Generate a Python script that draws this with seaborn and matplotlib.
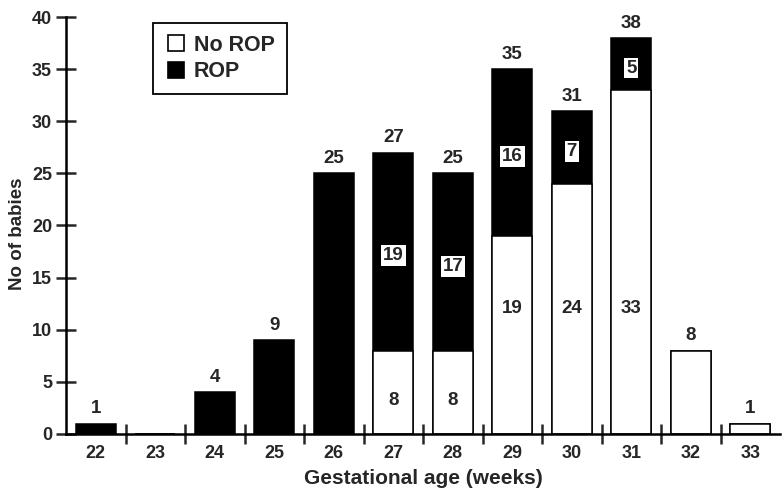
import numpy as np
import pandas as pd
import matplotlib
matplotlib.use("Agg")
import matplotlib.pyplot as plt
from matplotlib.lines import Line2D
import seaborn as sns

# data
weeks = ["22", "23", "24", "25", "26", "27", "28", "29", "30", "31", "32", "33"]
no_rop = [0, 0, 0, 0, 0, 8, 8, 19, 24, 33, 8, 1]
rop = [1, 0, 4, 9, 25, 19, 17, 16, 7, 5, 0, 0]

df = pd.DataFrame({"week": weeks, "no_rop": no_rop, "rop": rop})
df["total"] = df["no_rop"] + df["rop"]

sns.set_style("ticks")
plt.rcParams["font.family"] = ["Liberation Sans", "DejaVu Sans"]
plt.rcParams["font.weight"] = "bold"

fig = plt.figure(figsize=(7.84, 4.9), dpi=100)
ax = fig.add_axes([0.0842, 0.1143, 0.9107, 0.851])

# stacked bars: full height in black, then the No ROP part in white on top
sns.barplot(data=df, x="week", y="total", color="black", width=0.68,
            edgecolor="black", linewidth=1.1, saturation=1, errorbar=None, ax=ax)
sns.barplot(data=df, x="week", y="no_rop", color="white", width=0.68,
            edgecolor="black", linewidth=1.1, saturation=1, errorbar=None, ax=ax)

for i, row in df.iterrows():
    tot, n, r = row["total"], row["no_rop"], row["rop"]
    if tot > 0:
        ax.text(i, tot + 0.6, str(tot), ha="center", va="bottom",
                fontsize=13.5, fontweight="bold")
    if n > 0 and r > 0:
        y_in = 12 if n >= 12 else n * 0.4
        ax.text(i, y_in, str(n), ha="center", va="center",
                fontsize=13.5, fontweight="bold")
        ax.text(i, (n + tot) / 2 - 0.4, str(r), ha="center", va="center",
                fontsize=13.5, fontweight="bold",
                bbox=dict(boxstyle="square,pad=0.1", fc="white", ec="none"))

ax.set_xlim(-0.5, 11.5)
ax.set_ylim(0, 40)
ax.set_yticks(np.arange(0, 41, 5))
ax.set_xticks(range(len(weeks)))
ax.set_xticklabels(weeks)
ax.set_xticks(np.arange(0.5, len(weeks) - 1, 1), minor=True)

ax.tick_params(axis="x", which="major", length=0, pad=8, labelsize=13)
ax.tick_params(axis="x", which="minor", length=14, width=1.8, direction="inout")
ax.tick_params(axis="y", length=14, width=1.8, direction="inout", pad=3, labelsize=13)
for lab in ax.get_xticklabels() + ax.get_yticklabels():
    lab.set_fontweight("bold")

sns.despine(ax=ax)
for s in ["left", "bottom"]:
    ax.spines[s].set_linewidth(1.8)
    ax.spines[s].set_color("black")

ax.set_xlabel("Gestational age (weeks)", fontsize=15, fontweight="bold", labelpad=5)
ax.set_ylabel("No of babies", fontsize=13.5, fontweight="bold")
ax.yaxis.set_label_coords(-0.056, 0.48)

handles = [
    Line2D([], [], marker="s", ls="none", mfc="white", mec="black", mew=1.2, ms=11),
    Line2D([], [], marker="s", ls="none", mfc="black", mec="black", mew=1.2, ms=11),
]
leg = ax.legend(handles, ["No ROP", "ROP"], loc="upper left",
                bbox_to_anchor=(0.122, 0.986), borderaxespad=0,
                fancybox=False, edgecolor="black", framealpha=1,
                prop={"size": 15.5, "weight": "bold"},
                handletextpad=0.35, borderpad=0.55, labelspacing=0.25,
                handlelength=1.0)
leg.get_frame().set_linewidth(1.3)

fig.savefig("out.png", dpi=100)
